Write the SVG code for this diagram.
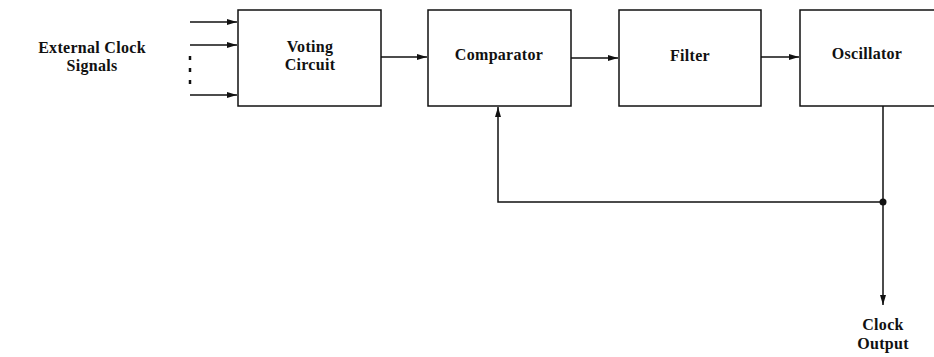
<svg xmlns="http://www.w3.org/2000/svg" width="934" height="357" viewBox="0 0 934 357">
<style>
.box{fill:#fff;stroke:#111;stroke-width:1.5}
.ln{fill:none;stroke:#111;stroke-width:1.5}
.t{font-family:"Liberation Serif","DejaVu Serif",serif;font-weight:bold;font-size:16px;letter-spacing:0.3px;fill:#111;text-anchor:middle}
</style>
<defs>
<marker id="ah" viewBox="0 0 10 6" refX="10" refY="3" markerWidth="10" markerHeight="6" markerUnits="userSpaceOnUse" orient="auto">
<path d="M0,0 L10,3 L0,6 Z" fill="#111"/>
</marker>
</defs>
<rect width="934" height="357" fill="#fff"/>
<g id="ext-label">
<text class="t" x="92" y="53">External Clock</text>
<text class="t" x="92" y="71">Signals</text>
</g>
<g id="voting">
<rect class="box" x="238" y="10" width="143" height="96"/>
<text class="t" x="310" y="52">Voting</text>
<text class="t" x="310" y="70">Circuit</text>
</g>
<g id="comparator">
<rect class="box" x="428" y="10" width="143" height="96"/>
<text class="t" x="499" y="60">Comparator</text>
</g>
<g id="filter">
<rect class="box" x="619" y="10" width="142" height="96"/>
<text class="t" x="690" y="61">Filter</text>
</g>
<g id="oscillator">
<rect class="box" x="800" y="10" width="140" height="96"/>
<text class="t" x="867" y="59">Oscillator</text>
</g>
<g id="clock-output">
<text class="t" x="883" y="330">Clock</text>
<text class="t" x="883" y="349">Output</text>
</g>
<g id="connectors">
<line class="ln" x1="190" y1="22" x2="237" y2="22" marker-end="url(#ah)"/>
<line class="ln" x1="190" y1="45" x2="237" y2="45" marker-end="url(#ah)"/>
<line class="ln" x1="190" y1="95" x2="237" y2="95" marker-end="url(#ah)"/>
<line x1="190" y1="56" x2="190" y2="60" stroke="#111" stroke-width="2.5"/>
<line x1="190" y1="68" x2="190" y2="72" stroke="#111" stroke-width="2.5"/>
<line x1="190" y1="80" x2="190" y2="84" stroke="#111" stroke-width="2.5"/>
<line class="ln" x1="381" y1="57" x2="427" y2="57" marker-end="url(#ah)"/>
<line class="ln" x1="571" y1="58" x2="618" y2="58" marker-end="url(#ah)"/>
<line class="ln" x1="761" y1="57" x2="799" y2="57" marker-end="url(#ah)"/>
<polyline class="ln" points="883,106 883,202 498,202 498,107" marker-end="url(#ah)"/>
<line class="ln" x1="883" y1="202" x2="883" y2="305" marker-end="url(#ah)"/>
<circle cx="883" cy="202" r="3.5" fill="#111"/>
</g>
</svg>
